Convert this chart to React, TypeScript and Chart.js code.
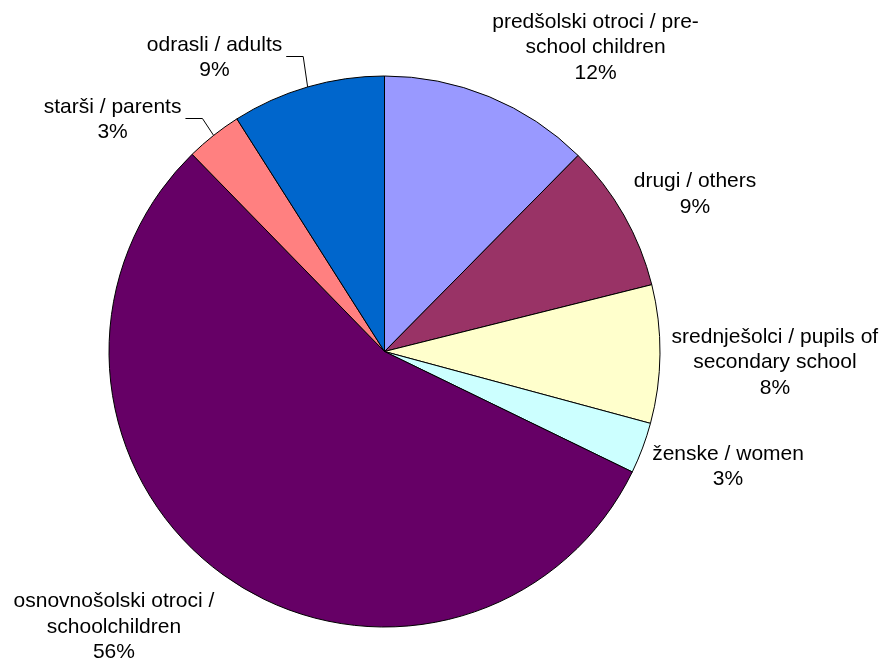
import React, { useEffect, useRef } from "react";
import { Chart, registerables } from "chart.js";

Chart.register(...registerables);

// ---- data ----
const CATEGORIES: string[][] = [
  ["predšolski otroci / pre-", "school children"],
  ["drugi / others"],
  ["srednješolci / pupils of", "secondary school"],
  ["ženske / women"],
  ["osnovnošolski otroci /", "schoolchildren"],
  ["starši / parents"],
  ["odrasli / adults"],
];
const VALUES: number[] = [12.4, 8.7, 8.1, 3.0, 55.5, 3.3, 9.0];
const COLORS: string[] = [
  "#9999FF",
  "#993366",
  "#FFFFCC",
  "#CCFFFF",
  "#660066",
  "#FF8080",
  "#0066CC",
];

// ---- label layout (offsets of label block centre from pie centre, in radii) ----
const LABEL_OFFSETS: [number, number][] = [
  [0.766, -1.109],
  [1.127, -0.577],
  [1.417, 0.033],
  [1.247, 0.412],
  [-0.982, 0.993],
  [-0.987, -0.848],
  [-0.617, -1.073],
];
const HAS_LEADER: boolean[] = [false, false, false, false, false, true, true];

const FONT_SIZE = 21;
const LINE_HEIGHT = 25.5;
const FONT = `${FONT_SIZE}px "Liberation Sans", Arial, sans-serif`;

const labelPlugin = {
  id: "outsideLabels",
  afterDatasetsDraw(chart: any) {
    const ctx: CanvasRenderingContext2D = chart.ctx;
    const meta = chart.getDatasetMeta(0);
    const data: number[] = chart.data.datasets[0].data;
    const total = data.reduce((a, b) => a + b, 0);
    ctx.save();
    ctx.font = FONT;
    ctx.fillStyle = "#000";
    ctx.textAlign = "center";
    ctx.textBaseline = "alphabetic";
    const capHalf = (FONT_SIZE * 0.716) / 2;
    meta.data.forEach((arc: any, i: number) => {
      const p = arc.getProps(["x", "y", "startAngle", "endAngle", "outerRadius"], true);
      const r = p.outerRadius;
      const cx = p.x + LABEL_OFFSETS[i][0] * r;
      const cy = p.y + LABEL_OFFSETS[i][1] * r;
      const pct = Math.round((data[i] / total) * 100) + "%";
      const lines = [...CATEGORIES[i], pct];
      const n = lines.length;
      let maxW = 0;
      lines.forEach((ln, k) => {
        const by = cy + (k - (n - 1) / 2) * LINE_HEIGHT + capHalf;
        ctx.fillText(ln, cx, by);
        maxW = Math.max(maxW, ctx.measureText(ln).width);
      });
      if (HAS_LEADER[i]) {
        const mid = (p.startAngle + p.endAngle) / 2;
        const ex = p.x + Math.cos(mid) * r;
        const ey = p.y + Math.sin(mid) * r;
        const sx = cx + maxW / 2 + 4;
        const elbowX = sx + 17;
        ctx.beginPath();
        ctx.strokeStyle = "#000";
        ctx.lineWidth = 1;
        ctx.moveTo(sx, Math.round(cy) + 0.5);
        ctx.lineTo(elbowX, Math.round(cy) + 0.5);
        ctx.lineTo(ex, ey);
        ctx.stroke();
      }
    });
    ctx.restore();
  },
};

export default function App() {
  const canvasRef = useRef<HTMLCanvasElement | null>(null);

  useEffect(() => {
    document.body.style.margin = "0";
    const canvas = canvasRef.current;
    if (!canvas) return;
    const chart = new Chart(canvas, {
      type: "pie",
      data: {
        labels: CATEGORIES.map((c) => c.join(" ")),
        datasets: [
          {
            data: VALUES,
            backgroundColor: COLORS,
            borderColor: "#000000",
            borderWidth: 1,
          },
        ],
      },
      options: {
        animation: false,
        responsive: false,
        maintainAspectRatio: false,
        devicePixelRatio: 1,
        layout: {
          padding: { left: 108.5, top: 75.5, right: 223.5, bottom: 34.5 },
        },
        plugins: {
          legend: { display: false },
          tooltip: { enabled: false },
          title: { display: false },
        },
      },
      plugins: [labelPlugin],
    });
    return () => chart.destroy();
  }, []);

  return (
    <div
      style={{
        position: "fixed",
        left: 0,
        top: 0,
        width: 884,
        height: 662,
        background: "#ffffff",
      }}
    >
      <canvas ref={canvasRef} width={884} height={662} style={{ display: "block" }} />
    </div>
  );
}
